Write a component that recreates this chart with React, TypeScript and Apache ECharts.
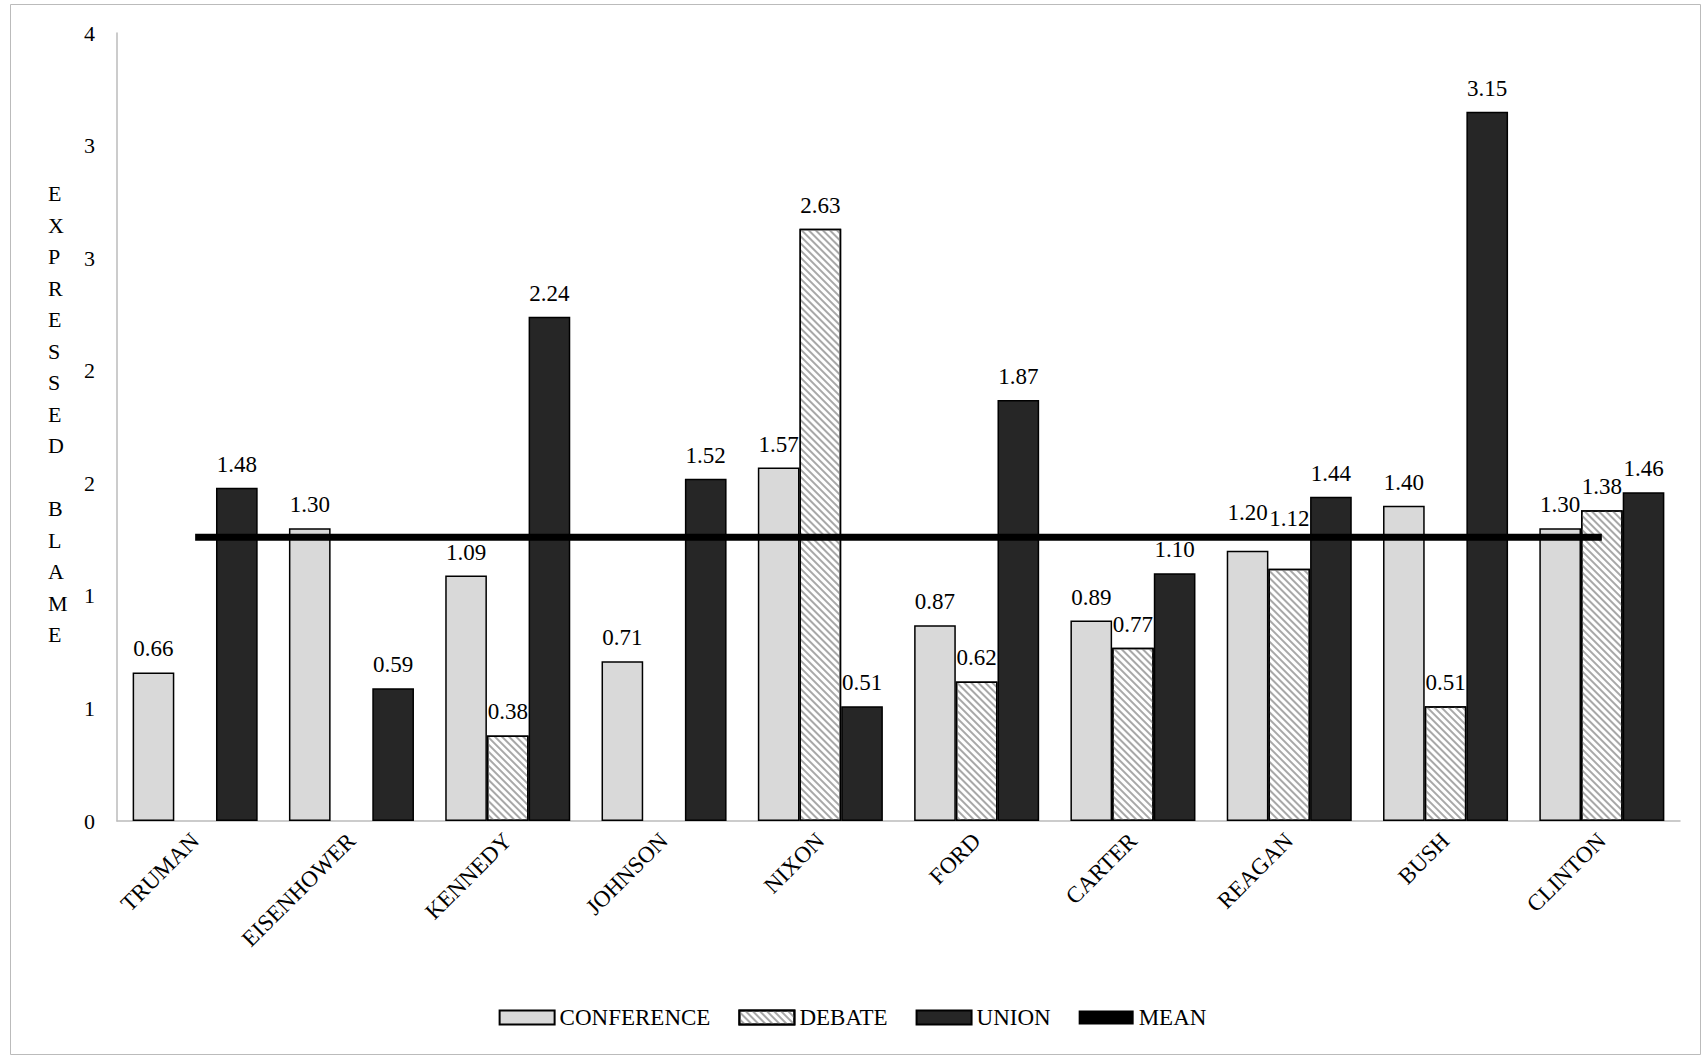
import { useEffect, useRef } from 'react';
import * as echarts from 'echarts';

const presidents = ['TRUMAN', 'EISENHOWER', 'KENNEDY', 'JOHNSON', 'NIXON', 'FORD', 'CARTER', 'REAGAN', 'BUSH', 'CLINTON'];
const conference = [0.66, 1.30, 1.09, 0.71, 1.57, 0.87, 0.89, 1.20, 1.40, 1.30];
const debate = [null, null, 0.38, null, 2.63, 0.62, 0.77, 1.12, 0.51, 1.38];
const union = [1.48, 0.59, 2.24, 1.52, 0.51, 1.87, 1.10, 1.44, 3.15, 1.46];
const mean = [1.26, 1.26, 1.26, 1.26, 1.26, 1.26, 1.26, 1.26, 1.26, 1.26];
// the original axis shows rounded half-steps
const tickLabels: Record<string, string> = { '0': '0', '0.5': '1', '1': '1', '1.5': '2', '2': '2', '2.5': '3', '3': '3', '3.5': '4' };

const font = '"Liberation Serif", "Times New Roman", serif';

// labels that sit just above the mean line get lifted clear of it
const lift = (values: (number | null)[], idx: number, dy: number) =>
  values.map((v, i) => (i === idx ? { value: v, label: { offset: [0, dy] } } : v));

export default function App() {
  const chartRef = useRef<HTMLDivElement>(null);

  useEffect(() => {
    document.body.style.margin = '0';
    if (!chartRef.current) return;
    const chart = echarts.init(chartRef.current, null, { renderer: 'svg' });

    const label = {
      show: true,
      position: 'top' as const,
      distance: 12,
      fontFamily: font,
      fontSize: 23,
      color: '#000',
      formatter: (p: any) => (p.value == null ? '' : p.value.toFixed(2)),
    };
    const barBase = { type: 'bar' as const, barGap: '0%', barCategoryGap: '20%', label, z: 2 };

    chart.setOption({
      animation: false,
      textStyle: { fontFamily: font },
      grid: { left: 117, right: 25, top: 33, bottom: 235 },
      legend: {
        bottom: 22,
        left: 'center',
        itemWidth: 55,
        itemHeight: 14,
        itemGap: 28,
        textStyle: { fontFamily: font, fontSize: 23, color: '#000' },
        data: [
          { name: 'CONFERENCE', icon: 'rect' },
          { name: 'DEBATE', icon: 'rect' },
          { name: 'UNION', icon: 'rect' },
          { name: 'MEAN', icon: 'rect', itemStyle: { color: '#000', borderWidth: 0 } },
        ],
      },
      xAxis: {
        type: 'category',
        data: presidents,
        axisLine: { lineStyle: { color: '#bbb', width: 1.5 } },
        axisTick: { show: false },
        axisLabel: { rotate: 45, fontFamily: font, fontSize: 23, color: '#000', margin: 16 },
      },
      yAxis: {
        type: 'value',
        min: 0,
        max: 3.5,
        interval: 0.5,
        axisLine: { show: true, lineStyle: { color: '#bbb', width: 1.5 } },
        axisTick: { show: false },
        splitLine: { show: false },
        axisLabel: {
          fontFamily: font,
          fontSize: 22,
          color: '#000',
          margin: 22,
          formatter: (v: number) => tickLabels[String(v)] ?? '',
        },
      },
      graphic: [
        {
          type: 'text',
          left: 48,
          top: 178,
          style: {
            text: 'E\nX\nP\nR\nE\nS\nS\nE\nD\n\nB\nL\nA\nM\nE',
            font: `22px ${font}`,
            lineHeight: 31.5,
            align: 'center',
            fill: '#000',
          },
        },
        {
          type: 'rect',
          left: 8,
          top: 2,
          shape: { width: 1690, height: 1050 },
          style: { fill: 'none', stroke: '#bbb', lineWidth: 1 },
          silent: true,
        },
      ],
      series: [
        {
          ...barBase,
          name: 'CONFERENCE',
          data: lift(conference, 7, -15),
          itemStyle: { color: '#d9d9d9', borderColor: '#000', borderWidth: 1.5 },
        },
        {
          ...barBase,
          name: 'DEBATE',
          data: lift(debate, 7, -27),
          itemStyle: {
            color: '#fff',
            borderColor: '#000',
            borderWidth: 1.5,
            decal: {
              symbol: 'rect',
              color: '#a8a8a8',
              backgroundColor: '#fff',
              dashArrayX: [1, 0],
              dashArrayY: [2, 3],
              rotation: Math.PI / 4,
            },
          },
        },
        {
          ...barBase,
          name: 'UNION',
          data: union,
          itemStyle: { color: '#262626', borderColor: '#000', borderWidth: 1.5 },
        },
        {
          name: 'MEAN',
          type: 'line',
          data: mean,
          symbol: 'none',
          lineStyle: { color: '#000', width: 7 },
          itemStyle: { color: '#000' },
          z: 2,
        },
      ],
    });

    return () => chart.dispose();
  }, []);

  return <div ref={chartRef} style={{ width: 1705, height: 1056, background: '#fff' }} />;
}
